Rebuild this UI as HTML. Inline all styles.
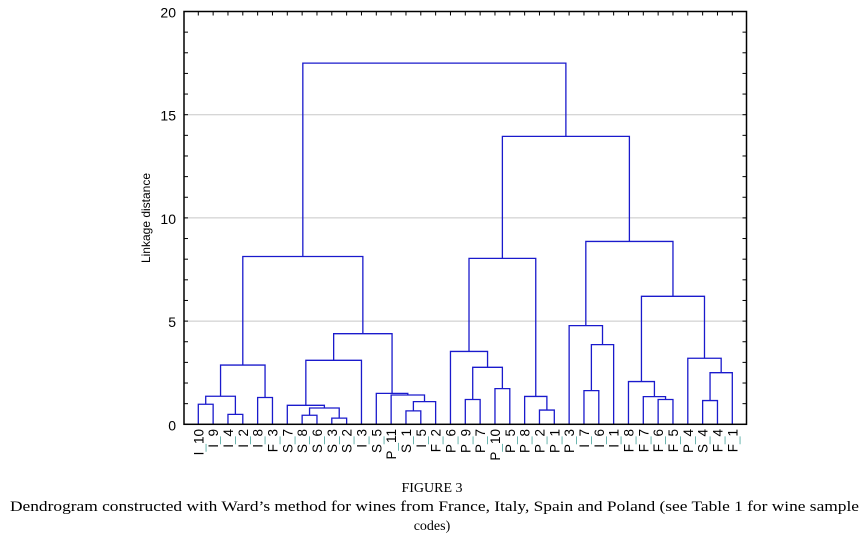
<!DOCTYPE html>
<html><head><meta charset="utf-8"><style>
body{margin:0;background:#fff;width:864px;height:538px;overflow:hidden}
svg{display:block}
</style></head><body>
<svg id="chart" width="864" height="538" viewBox="0 0 864 538" xmlns="http://www.w3.org/2000/svg">
<g id="grid"></g>
<g id="links"></g>
<rect x="184" y="11.5" width="562.5" height="412.8" fill="none" stroke="#000" stroke-width="1.5"/>
<g id="axes"></g>
<g id="labels"></g>
<text transform="translate(150,218) rotate(-90)" text-anchor="middle" font-family="Liberation Sans, sans-serif" font-size="12">Linkage distance</text>
<g font-family="Liberation Serif, serif" font-size="14">
<text x="432" y="492" text-anchor="middle">FIGURE 3</text>
<text x="10" y="511" font-size="15" textLength="849" lengthAdjust="spacingAndGlyphs">Dendrogram constructed with Ward’s method for wines from France, Italy, Spain and Poland (see Table 1 for wine sample</text>
<text x="432" y="530" text-anchor="middle">codes)</text>
</g>
</svg>
<script>
const leaves = ["I_10","I_9","I_4","I_2","I_8","F_3","S_7","S_8","S_6","S_3","S_2","I_3","S_5","P_11","S_1","I_5","F_2","P_6","P_9","P_7","P_10","P_5","P_8","P_2","P_1","P_3","I_7","I_6","I_1","F_8","F_7","F_6","F_5","P_4","S_4","F_4","F_1"];
const mergeLeft  = [0,2,37,4,39,7,9,42,6,45,14,47,13,12,46,41,18,20,53,17,23,22,56,26,60,25,31,30,29,34,66,33,65,62,59,52];
const mergeRight = [1,3,38,5,40,8,10,43,44,11,15,16,48,49,50,51,19,21,54,55,24,57,58,27,28,61,32,63,64,35,36,67,68,69,70,71];
const mergeHeight= [0.97,0.48,1.36,1.3,2.87,0.44,0.3,0.79,0.92,3.1,0.65,1.1,1.42,1.5,4.39,8.13,1.2,1.73,2.76,3.53,0.69,1.35,8.04,1.63,3.86,4.78,1.2,1.34,2.07,1.15,2.5,3.2,6.2,8.86,13.95,17.5];
const yTicks = [0,5,10,15,20];

const NS="http://www.w3.org/2000/svg";
const X0=198.3, X1=732.3, Ybot=424.3, Ytop=11.5, L=184, R=746.5;
const xLeaf=i=>X0+(X1-X0)*i/(leaves.length-1);
const y=v=>Ybot-(Ybot-Ytop)*v/20;
function mk(tag,attrs,parent){const e=document.createElementNS(NS,tag);for(const k in attrs)e.setAttribute(k,attrs[k]);parent.appendChild(e);return e;}

const grid=document.getElementById('grid'), axes=document.getElementById('axes');
yTicks.forEach(t=>{
  if(t>0&&t<20){const g=mk('line',{x1:L,x2:R,y1:y(t),y2:y(t),stroke:'#c8c8c8','stroke-width':1},grid);
  
  }
  const tx=mk('text',{x:176,y:y(t)+6,'text-anchor':'end','font-family':'Liberation Sans, sans-serif','font-size':14},axes);
  tx.textContent=t;
  
  
});
for(let v=0;v<=20;v++){
  mk('line',{x1:L,x2:L+4,y1:y(v),y2:y(v),stroke:'#000','stroke-width':1},axes);
  mk('line',{x1:R-4,x2:R,y1:y(v),y2:y(v),stroke:'#000','stroke-width':1},axes);
}
leaves.forEach((_,i)=>mk('line',{x1:xLeaf(i),x2:xLeaf(i),y1:Ytop,y2:Ytop+4,stroke:'#000','stroke-width':1},axes));

const nx=[], ny=[];
leaves.forEach((_,i)=>{nx[i]=xLeaf(i);ny[i]=0;});
const links=document.getElementById('links');
mergeLeft.forEach((a,k)=>{
  const b=mergeRight[k], h=mergeHeight[k], id=leaves.length+k;
  nx[id]=(nx[a]+nx[b])/2; ny[id]=h;
  const p=mk('path',{d:`M${nx[a]},${y(ny[a])}V${y(h)}H${nx[b]}V${y(ny[b])}`,fill:'none',stroke:'#1a1acc','stroke-width':1.3},links);
  
  
});

const lab=document.getElementById('labels');
leaves.forEach((s,i)=>{
  const t=mk('text',{transform:`translate(${xLeaf(i)+5},429) rotate(-90)`,'text-anchor':'end','font-family':'Liberation Sans, sans-serif','font-size':13.5},lab);
  
  
  const parts=s.split('_');
  const a=document.createElementNS(NS,'tspan');a.textContent=parts[0];t.appendChild(a);
  const u=document.createElementNS(NS,'tspan');u.textContent='_';u.setAttribute('fill','#5aaea6');t.appendChild(u);
  const c=document.createElementNS(NS,'tspan');c.textContent=parts[1];t.appendChild(c);
});
</script>
</body></html>
